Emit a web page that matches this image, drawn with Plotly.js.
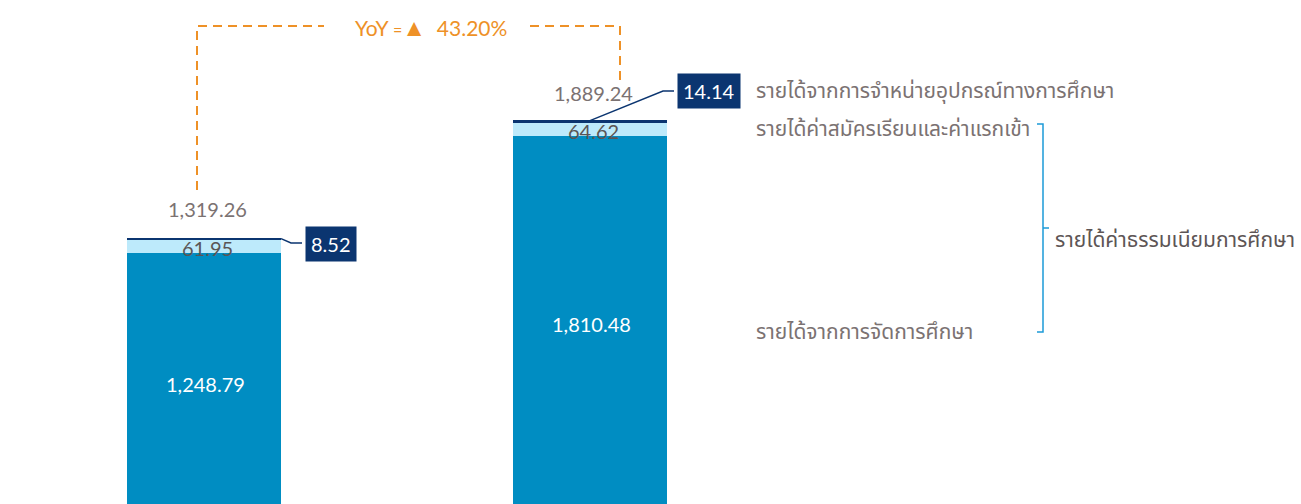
<!DOCTYPE html>
<html><head><meta charset="utf-8">
<script src="https://cdn.plot.ly/plotly-3.0.1.min.js"></script>
<style>html,body{margin:0;padding:0;background:#fff}#chart{width:1301px;height:504px}</style>
</head><body><div id="chart"></div>
<script>
// Data
const periods = ['ปีก่อน', 'ปีปัจจุบัน'];
const educationRevenue = [1248.79, 1810.48];   // รายได้จากการจัดการศึกษา
const applicationFees = [61.95, 64.62];        // รายได้ค่าสมัครเรียนและค่าแรกเข้า
const equipmentSales = [8.52, 14.14];          // รายได้จากการจำหน่ายอุปกรณ์ทางการศึกษา
const totals = [1319.26, 1889.24];
const seriesNames = ['รายได้จากการจัดการศึกษา', 'รายได้ค่าสมัครเรียนและค่าแรกเข้า', 'รายได้จากการจำหน่ายอุปกรณ์ทางการศึกษา'];
const groupLabel = 'รายได้ค่าธรรมเนียมการศึกษา';

const W = 1301, H = 504;
const xr = [-0.5285, 2.842], yr = [34.3, 2468.9];
const px2x = p => xr[0] + p / W * (xr[1] - xr[0]);
const px2y = p => yr[1] - p / H * (yr[1] - yr[0]);
const BW = 0.399;
const fmt = v => v.toLocaleString('en-US', {minimumFractionDigits: 2, maximumFractionDigits: 2});
const FONT = 'Lato, "Noto Sans Thai", "Noto Sans", sans-serif';
const C_DARK = '#008dc2', C_LIGHT = '#bdeafb', C_NAVY = '#0b3570', C_ORANGE = '#ee9127', C_GREY = '#7b7272';

const xs = [0, 1];
const traces = [
  {x: xs, y: educationRevenue, name: seriesNames[0], type: 'bar', width: BW, marker: {color: C_DARK}, hoverinfo: 'none'},
  {x: xs, y: applicationFees, name: seriesNames[1], type: 'bar', width: BW, marker: {color: C_LIGHT}, hoverinfo: 'none'},
  {x: xs, y: equipmentSales, name: seriesNames[2], type: 'bar', width: BW, marker: {color: C_NAVY}, hoverinfo: 'none'}
];

const ann = [];
const shapes = [];
xs.forEach((x, i) => {
  ann.push({x: x + 0.005, y: educationRevenue[i] * (i === 0 ? 0.49 : 0.5), text: fmt(educationRevenue[i]), showarrow: false, font: {family: FONT, size: 20, color: '#ffffff'}});
  ann.push({x: x + 0.01, y: educationRevenue[i] + applicationFees[i] / 2 - 7, text: fmt(applicationFees[i]), showarrow: false, font: {family: FONT, size: 20, color: '#5a5555'}});
  ann.push({x: x + 0.008, y: totals[i] + (i === 0 ? 140 : 132), text: fmt(totals[i]), showarrow: false, font: {family: FONT, size: 20, color: C_GREY}});
});
// boxed small values
const boxPx = [[331, 244], [709, 91]];
xs.forEach((x, i) => {
  ann.push({x: px2x(boxPx[i][0]), y: px2y(boxPx[i][1]), text: fmt(equipmentSales[i]), showarrow: false, bgcolor: C_NAVY, borderpad: 5, font: {family: FONT, size: 20, color: '#ffffff'}});
});
// connectors
shapes.push({type: 'path', xref: 'x', yref: 'y', path: `M ${0 + BW/2} ${totals[0] - 3} L ${px2x(291)} ${px2y(243)} L ${px2x(302)} ${px2y(243)}`, line: {color: C_NAVY, width: 1.5}});
shapes.push({type: 'path', xref: 'x', yref: 'y', path: `M 1 ${totals[1] - 3} L ${px2x(663)} ${px2y(91)} L ${px2x(674)} ${px2y(91)}`, line: {color: C_NAVY, width: 1.5}});

// YoY
const yoy = (totals[1] / totals[0] - 1) * 100;
const ytop = px2y(26);
const DASH = '9px,6px';
shapes.push({type: 'path', xref: 'x', yref: 'y', path: `M ${px2x(197)} ${px2y(190)} L ${px2x(197)} ${ytop} L ${px2x(324)} ${ytop}`, line: {color: C_ORANGE, width: 2, dash: DASH}});
shapes.push({type: 'path', xref: 'x', yref: 'y', path: `M ${px2x(530)} ${ytop} L ${px2x(620)} ${ytop} L ${px2x(620)} ${px2y(83)}`, line: {color: C_ORANGE, width: 2, dash: DASH}});
ann.push({x: px2x(431), y: ytop, text: 'YoY <span style="font-size:16px">=</span><span style="font-size:24px">▲</span>  ' + yoy.toFixed(2) + '%', showarrow: false, font: {family: FONT, size: 21, color: C_ORANGE}});

// right labels
const lblX = px2x(754);
const TH = 21;
ann.push({x: lblX, y: px2y(90), xanchor: 'left', text: seriesNames[2], showarrow: false, font: {family: FONT, size: TH, color: C_GREY}});
ann.push({x: lblX, y: px2y(127), xanchor: 'left', text: seriesNames[1], showarrow: false, font: {family: FONT, size: TH, color: C_GREY}});
ann.push({x: lblX, y: px2y(330), xanchor: 'left', text: seriesNames[0], showarrow: false, font: {family: FONT, size: TH, color: C_GREY}});
ann.push({x: px2x(1053), y: px2y(238), xanchor: 'left', text: groupLabel, showarrow: false, font: {family: FONT, size: TH, color: '#5d5555'}});
// bracket
const bx = px2x(1043);
shapes.push({type: 'path', xref: 'x', yref: 'y', path: `M ${px2x(1037)} ${px2y(124)} L ${bx} ${px2y(124)} L ${bx} ${px2y(332)} L ${px2x(1037)} ${px2y(332)} M ${bx} ${px2y(228)} L ${px2x(1049)} ${px2y(228)}`, line: {color: '#1d9bd8', width: 1.5}});

const layout = {
  width: W, height: H,
  margin: {l: 0, r: 0, t: 0, b: 0},
  barmode: 'stack', bargap: 0,
  showlegend: false,
  paper_bgcolor: '#ffffff', plot_bgcolor: '#ffffff',
  xaxis: {range: xr, visible: false, fixedrange: true},
  yaxis: {range: yr, visible: false, fixedrange: true},
  annotations: ann, shapes: shapes
};
Plotly.newPlot('chart', traces, layout, {displayModeBar: false, staticPlot: true});
</script></body></html>
